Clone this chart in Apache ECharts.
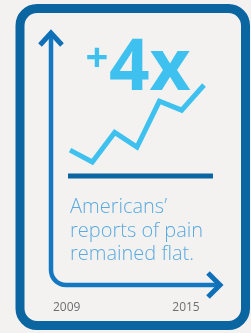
<!DOCTYPE html>
<html>
<head>
<meta charset="utf-8">
<script src="https://cdn.jsdelivr.net/npm/echarts@6/dist/echarts.min.js"></script>
<style>
  html, body { margin: 0; padding: 0; background: #f3f2f0; }
  #chart { width: 251px; height: 333px; }
</style>
</head>
<body>
<div id="chart"></div>
<script>
// years along the bottom, relative level of the rising line (index)
const years = [2009, 2010, 2011, 2012, 2013, 2014, 2015];
const values = [1.4, 1.0, 2.0, 1.5, 3.05, 2.75, 3.6];
const yearTicks = [2009, 2015];
const headline = '4x';
const caption = ['Americans’', 'reports of pain', 'remained flat.'];

const chartDom = document.getElementById('chart');
const myChart = echarts.init(chartDom);

let option = {
  backgroundColor: '#f3f2f0',
  animation: false,
  grid: [
    { left: 70, top: 85, width: 134, height: 77 },      // rising line
    { left: 66.7, top: 150, width: 119.3, height: 143 } // year labels
  ],
  xAxis: [
    {
      gridIndex: 0, type: 'value', min: 2009, max: 2015,
      show: false
    },
    {
      gridIndex: 1, type: 'value', min: 2009, max: 2015, interval: 6,
      axisLine: { show: false },
      axisTick: { show: false },
      splitLine: { show: false },
      axisLabel: {
        margin: 9,
        color: '#6d6e71',
        fontFamily: 'Open Sans',
        fontSize: 12,
        formatter: function (v) {
          return yearTicks.indexOf(v) >= 0 ? String(v) : '';
        }
      }
    }
  ],
  yAxis: [
    { gridIndex: 0, type: 'value', min: 1.0, max: 3.6, show: false },
    { gridIndex: 1, type: 'value', show: false }
  ],
  series: [
    {
      type: 'line',
      xAxisIndex: 0,
      yAxisIndex: 0,
      data: years.map((y, i) => [y, values[i]]),
      showSymbol: false,
      clip: false,
      lineStyle: { color: '#3fc1f0', width: 5, join: 'miter', cap: 'butt' }
    }
  ],
  graphic: [
    // outer rounded frame
    {
      type: 'rect',
      shape: { x: 20, y: 8.5, width: 225.5, height: 317, r: 17 },
      style: { fill: 'none', stroke: '#0b65a0', lineWidth: 9 }
    },
    // L-shaped axis with rounded corner
    {
      type: 'line',
      shape: { x1: 51, y1: 34, x2: 51, y2: 270 },
      style: { stroke: '#1377c2', lineWidth: 4.5 }
    },
    {
      type: 'arc',
      shape: { cx: 66, cy: 270, r: 15, startAngle: Math.PI / 2, endAngle: Math.PI, clockwise: true },
      style: { fill: 'none', stroke: '#1377c2', lineWidth: 4.5 }
    },
    {
      type: 'line',
      shape: { x1: 66, y1: 285, x2: 219, y2: 285 },
      style: { stroke: '#1377c2', lineWidth: 4.5 }
    },
    {
      type: 'polyline',
      shape: { points: [[40, 45], [51, 33], [62, 45]] },
      style: { fill: 'none', stroke: '#0f70b8', lineWidth: 5, lineJoin: 'miter' }
    },
    {
      type: 'polyline',
      shape: { points: [[208, 273], [220, 285], [208, 297]] },
      style: { fill: 'none', stroke: '#0f70b8', lineWidth: 5, lineJoin: 'miter' }
    },
    // dark rule under the line
    {
      type: 'line',
      shape: { x1: 68, y1: 176, x2: 213, y2: 176 },
      style: { stroke: '#0b65a0', lineWidth: 5 }
    },
    // +4x
    {
      type: 'text',
      x: 97, y: 60,
      style: {
        text: '+', fill: '#3fc1f0', fontFamily: 'Open Sans', fontWeight: 'bold',
        fontSize: 40, align: 'center', verticalAlign: 'middle'
      }
    },
    {
      type: 'text',
      x: 109, y: 34,
      style: {
        text: headline, fill: '#3fc1f0', fontFamily: 'Open Sans', fontWeight: 'bold',
        fontSize: 71, align: 'left', verticalAlign: 'top'
      }
    },
    // caption
    {
      type: 'text',
      x: 70, y: 196,
      style: {
        text: caption.join('\n'), fill: '#5aaae0', fontFamily: 'Open Sans', fontWeight: 300,
        fontSize: 20, lineHeight: 23.5, align: 'left', verticalAlign: 'top'
      }
    }
  ]
};
option && myChart.setOption(option);
</script>
</body>
</html>
